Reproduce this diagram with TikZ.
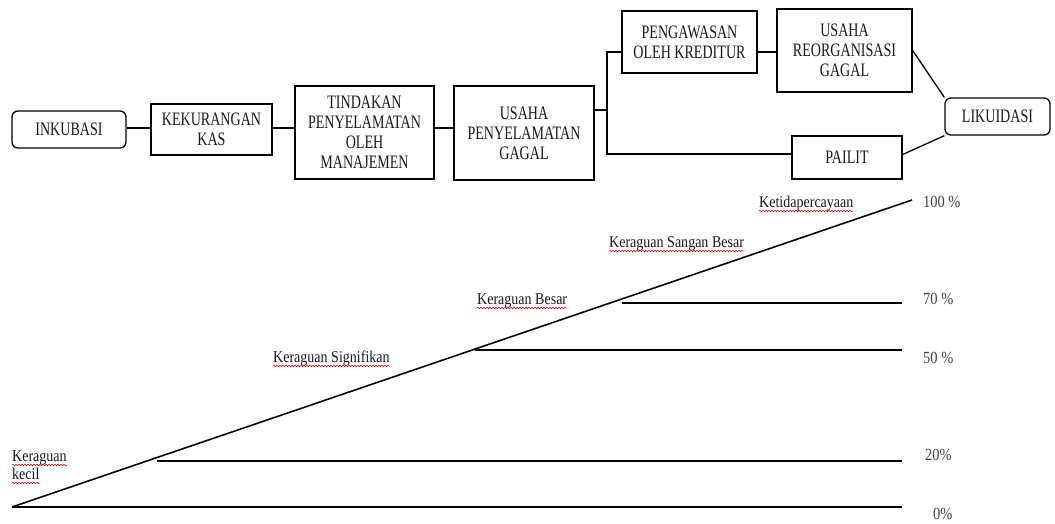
\documentclass[tikz,border=0pt]{standalone}
\usepackage{fontspec}
\setmainfont[FakeStretch=0.74]{Liberation Serif}
\newfontfamily\lowfont[FakeStretch=0.85]{Liberation Serif}
\usetikzlibrary{decorations.pathmorphing}
\begin{document}
\begin{tikzpicture}[x=1pt,y=-1pt,
  box/.style={draw, line width=1.3pt, align=center, inner sep=0pt, font=\fontsize{19}{20}\selectfont, text=black!90},
  rbox/.style={box, rounded corners=6pt},
  conn/.style={line width=1.3pt},
  axisline/.style={line width=1.6pt},
  lbl/.style={anchor=base west, inner sep=0pt, font=\lowfont\fontsize{16.5}{18}\selectfont, text=black!90},
  pct/.style={lbl, font=\lowfont\fontsize{17}{18}\selectfont, text=black!75},
  squig/.style={draw=red!80!black, line width=0.5pt, decorate, decoration={snake, amplitude=0.8pt, segment length=3pt}}
]
\useasboundingbox (0,0) rectangle (1055,523);

% ---- top flow ----
\node[rbox, minimum width=114, minimum height=37] (ink) at (69,129.5) {INKUBASI};
\node[box, minimum width=121, minimum height=51] (kas) at (211.5,129.5) {KEKURANGAN\\KAS};
\node[box, minimum width=139, minimum height=93] (tin) at (364.5,132.5) {TINDAKAN\\PENYELAMATAN\\OLEH\\MANAJEMEN};
\node[box, minimum width=140, minimum height=94] (usa) at (524,133) {USAHA\\PENYELAMATAN\\GAGAL};
\node[box, minimum width=135, minimum height=62] (pen) at (689.5,42) {PENGAWASAN\\OLEH KREDITUR};
\node[box, minimum width=135, minimum height=83] (reo) at (844.5,50.5) {USAHA\\REORGANISASI\\GAGAL};
\node[rbox, minimum width=105, minimum height=37] (lik) at (997.5,116.5) {LIKUIDASI};
\node[box, minimum width=110, minimum height=43] (pai) at (847,157.5) {PAILIT};

\coordinate (mainy) at (0,128);
\coordinate (j) at (607,110);
\coordinate (jt) at (607,52);
\coordinate (jb) at (607,154);

\draw[conn] (ink.east |- mainy) -- (kas.west |- mainy);
\draw[conn] (kas.east |- mainy) -- (tin.west |- mainy);
\draw[conn] (tin.east |- mainy) -- (usa.west |- mainy);
\draw[conn] (usa.east |- j) -- (j);
\draw[conn] (pen.west |- jt) -- (jt) -- (jb) -- (pai.west |- jb);
\draw[conn] (pen.east |- jt) -- (reo.west |- jt);
\draw[conn] (reo.east) -- (lik.north west);
\draw[conn] ([yshift=3pt]pai.east) -- (lik.south west);

% ---- lower chart ----
\coordinate (o) at (12,507);
\coordinate (t) at (912,200);
\coordinate (e0) at (902,507);
\coordinate (s20) at (157,461);
\coordinate (e20) at (902,461);
\coordinate (s50) at (475,350);
\coordinate (e50) at (902,350);
\coordinate (s70) at (622,303);
\coordinate (e70) at (902,303);

\draw[axisline] (o) -- (t);
\draw[axisline] (o) -- (e0);
\draw[axisline] (s20) -- (e20);
\draw[axisline] (s50) -- (e50);
\draw[axisline] (s70) -- (e70);

\node[lbl] (k1a) at (12,461) {Keraguan};
\node[lbl] (k1b) at (12,479) {kecil};
\node[lbl] (k2) at (273,362) {Keraguan Signifikan};
\node[lbl] (k3) at (477,304) {Keraguan Besar};
\node[lbl] (k4) at (609,247) {Keraguan Sangan Besar};
\node[lbl] (k5) at (759,207) {Ketidapercayaan};

\foreach \n in {k1a,k1b,k2,k3,k4,k5}{
  \draw[squig] ([yshift=-4pt]\n.base west) -- ([yshift=-4pt]\n.base east);
}

\node[pct] (p100) at (923,207) {100 \%};
\node[pct] (p70) at (923,304) {70 \%};
\node[pct] (p50) at (923,363) {50 \%};
\node[pct] (p20) at (925,460) {20\%};
\node[pct] (p0) at (933,519) {0\%};
\end{tikzpicture}
\end{document}
